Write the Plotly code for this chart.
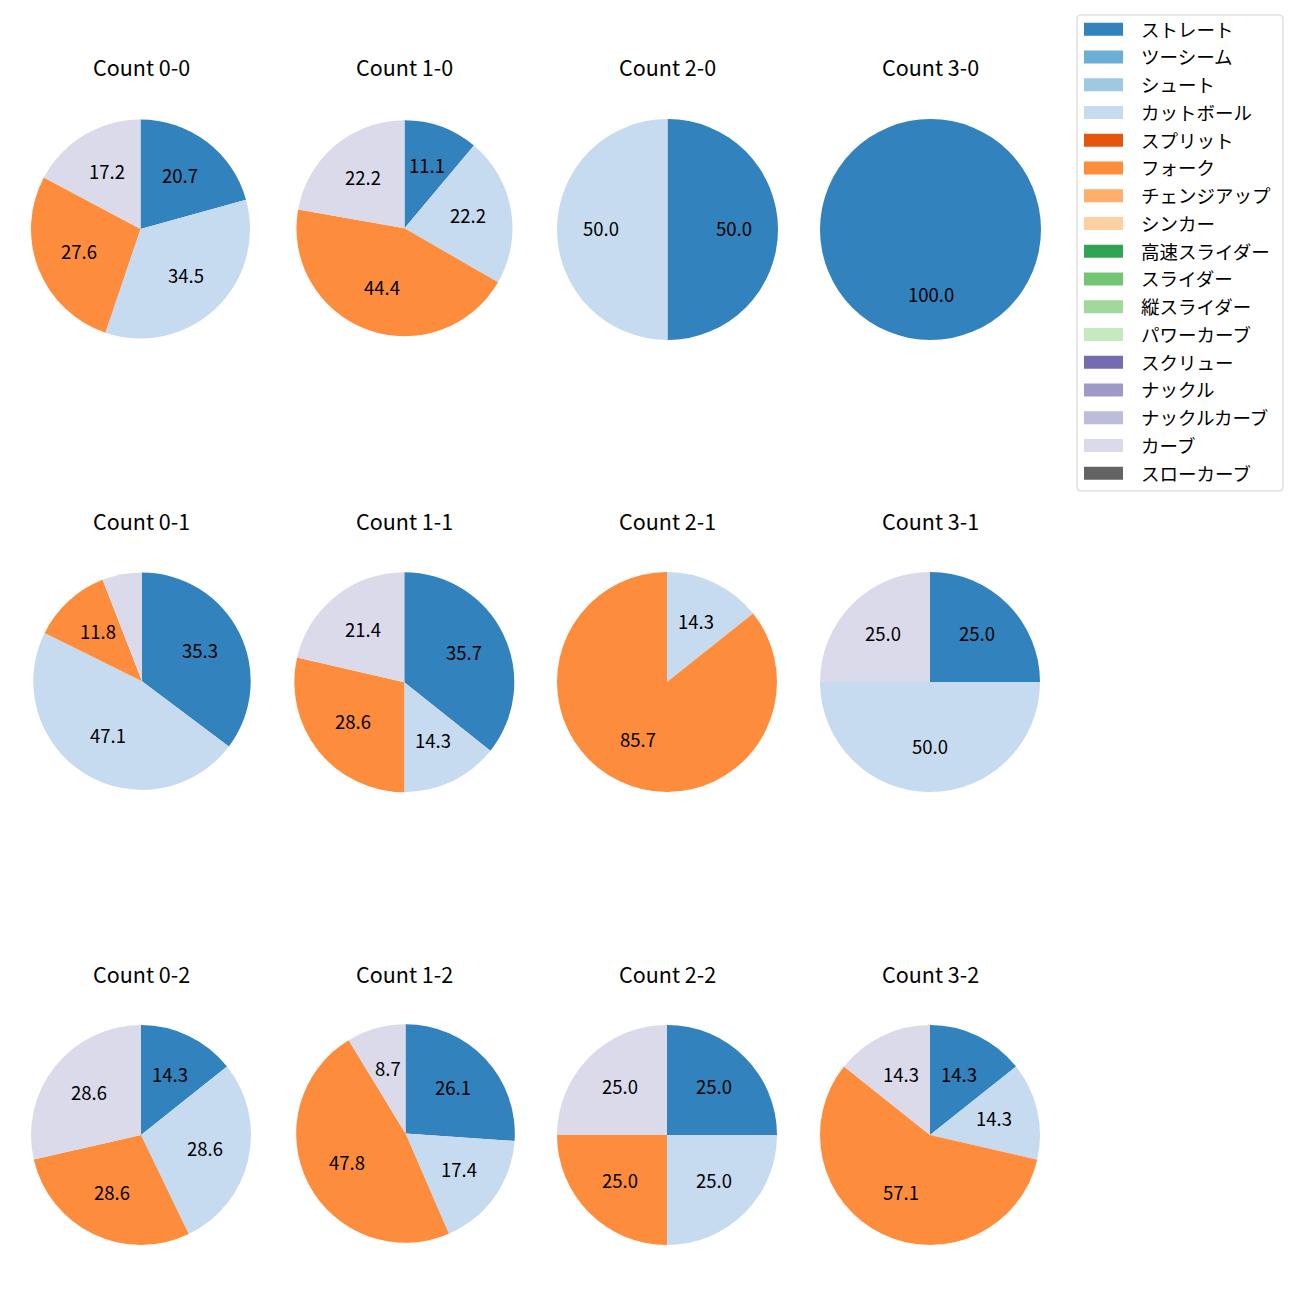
import math
import plotly.graph_objects as go

# ---- data ----
pitch_types = ["ストレート", "ツーシーム", "シュート", "カットボール", "スプリット", "フォーク",
               "チェンジアップ", "シンカー", "高速スライダー", "スライダー", "縦スライダー",
               "パワーカーブ", "スクリュー", "ナックル", "ナックルカーブ", "カーブ", "スローカーブ"]
pitch_colors = ["#3182bd", "#6baed6", "#9ecae1", "#c6dbef", "#e6550d", "#fd8d3c",
                "#fdae6b", "#fdd0a2", "#31a354", "#74c476", "#a1d99b", "#c7e9c0",
                "#756bb1", "#9e9ac8", "#bcbddc", "#dadaeb", "#636363"]

used_types = ["ストレート", "カットボール", "フォーク", "カーブ"]
count_labels = ["0-0", "1-0", "2-0", "3-0", "0-1", "1-1", "2-1", "3-1", "0-2", "1-2", "2-2", "3-2"]
c00 = [20.7, 34.5, 27.6, 17.2]
c10 = [11.1, 22.2, 44.4, 22.2]
c20 = [50.0, 50.0, 0.0, 0.0]
c30 = [100.0, 0.0, 0.0, 0.0]
c01 = [35.3, 47.1, 11.8, 5.9]
c11 = [35.7, 14.3, 28.6, 21.4]
c21 = [0.0, 14.3, 85.7, 0.0]
c31 = [25.0, 50.0, 0.0, 25.0]
c02 = [14.3, 28.6, 28.6, 28.6]
c12 = [26.1, 17.4, 47.8, 8.7]
c22 = [25.0, 25.0, 25.0, 25.0]
c32 = [14.3, 14.3, 57.1, 14.3]
count_values = [c00, c10, c20, c30, c01, c11, c21, c31, c02, c12, c22, c32]

# ---- layout constants ----
W = H = 1300
OFF = 8  # page body margin
FONT = "Noto Sans CJK JP"
col_cx = [141, 404, 667, 930]
row_cy = [229, 682, 1135]
title_dy = 160
radii = [109.5, 108.0, 110.5, 110.5, 108.7, 110.0, 110.0, 110.0, 110.0, 109.3, 110.0, 110.0]
cx_adj = [-0.5, 0.5, 0.5, 0.5, 1.0, 0.3, 0, 0, 0, 1.5, 0, 0]
cy_adj = [0, -0.7, 0.5, 0.5, -0.8, 0.2, 0, 0, 0, -1.5, 0, 0]
LABEL_MIN = 6.0
TEXT_DY = -2


def px_x(x):
    return (x - OFF) / W


def px_y(y):
    return 1 - (y - OFF) / H


color_of = dict(zip(pitch_types, pitch_colors))

fig = go.Figure()
annotations = []
shapes = []

for i, (cl, vals) in enumerate(zip(count_labels, count_values)):
    gx = col_cx[i % 4]
    gy = row_cy[i // 4]
    cx = gx + cx_adj[i]
    cy = gy + cy_adj[i]
    R = radii[i]
    fig.add_trace(go.Pie(
        labels=used_types,
        values=vals,
        marker=dict(colors=[color_of[t] for t in used_types], line=dict(width=0)),
        sort=False,
        direction="clockwise",
        rotation=0,
        textinfo="none",
        hoverinfo="label+percent",
        showlegend=False,
        domain=dict(x=[px_x(cx - R), px_x(cx + R)], y=[px_y(cy + R), px_y(cy - R)]),
    ))
    annotations.append(dict(
        x=px_x(gx), y=px_y(gy - title_dy + TEXT_DY), xref="paper", yref="paper",
        text=f"Count {cl}", showarrow=False, xanchor="center", yanchor="middle",
        font=dict(family=FONT, size=21.5, color="#000"),
    ))
    total = sum(vals)
    cum = 0.0
    for v in vals:
        if v > 0 and v >= LABEL_MIN:
            frac = (cum + v / 2) / total
            ang = math.radians(90 - 360 * frac)
            lx = cx + 0.6 * R * math.cos(ang)
            ly = cy - 0.6 * R * math.sin(ang)
            annotations.append(dict(
                x=px_x(lx), y=px_y(ly + TEXT_DY), xref="paper", yref="paper",
                text=f"{v:.1f}", showarrow=False, xanchor="center", yanchor="middle",
                font=dict(family=FONT, size=18.5, color="#000"),
            ))
        cum += v

# ---- legend (matplotlib style) ----
lx0, lx1, ly0, ly1, rr = 1077, 1283, 15, 491, 4
pts = [("M", lx0 + rr, ly0), ("L", lx1 - rr, ly0), ("Q", lx1, ly0, lx1, ly0 + rr),
       ("L", lx1, ly1 - rr), ("Q", lx1, ly1, lx1 - rr, ly1), ("L", lx0 + rr, ly1),
       ("Q", lx0, ly1, lx0, ly1 - rr), ("L", lx0, ly0 + rr), ("Q", lx0, ly0, lx0 + rr, ly0)]
segs = []
for p in pts:
    cmd, coords = p[0], p[1:]
    xy = [f"{px_x(coords[j]):.6f},{px_y(coords[j + 1]):.6f}" for j in range(0, len(coords), 2)]
    segs.append(cmd + " " + " ".join(xy))
path = " ".join(segs) + " Z"
shapes.append(dict(type="path", xref="paper", yref="paper", path=path,
                   line=dict(color="#d0d0d0", width=1), fillcolor="rgba(255,255,255,0.8)"))
row0, step = 29.2, 27.75
for k, (t, c) in enumerate(zip(pitch_types, pitch_colors)):
    yc = row0 + k * step
    shapes.append(dict(type="rect", xref="paper", yref="paper",
                       x0=px_x(1084), x1=px_x(1123), y0=px_y(yc + 6.5), y1=px_y(yc - 6.5),
                       line=dict(width=0), fillcolor=c))
    annotations.append(dict(x=px_x(1139), y=px_y(yc - 0.5), xref="paper", yref="paper", text=t,
                            showarrow=False, xanchor="left", yanchor="middle",
                            font=dict(family=FONT, size=18.5, color="#000")))

fig.update_layout(
    width=W, height=H, margin=dict(l=0, r=0, t=0, b=0),
    paper_bgcolor="white", plot_bgcolor="white",
    annotations=annotations, shapes=shapes, showlegend=False,
)
fig.write_html("out.html")
